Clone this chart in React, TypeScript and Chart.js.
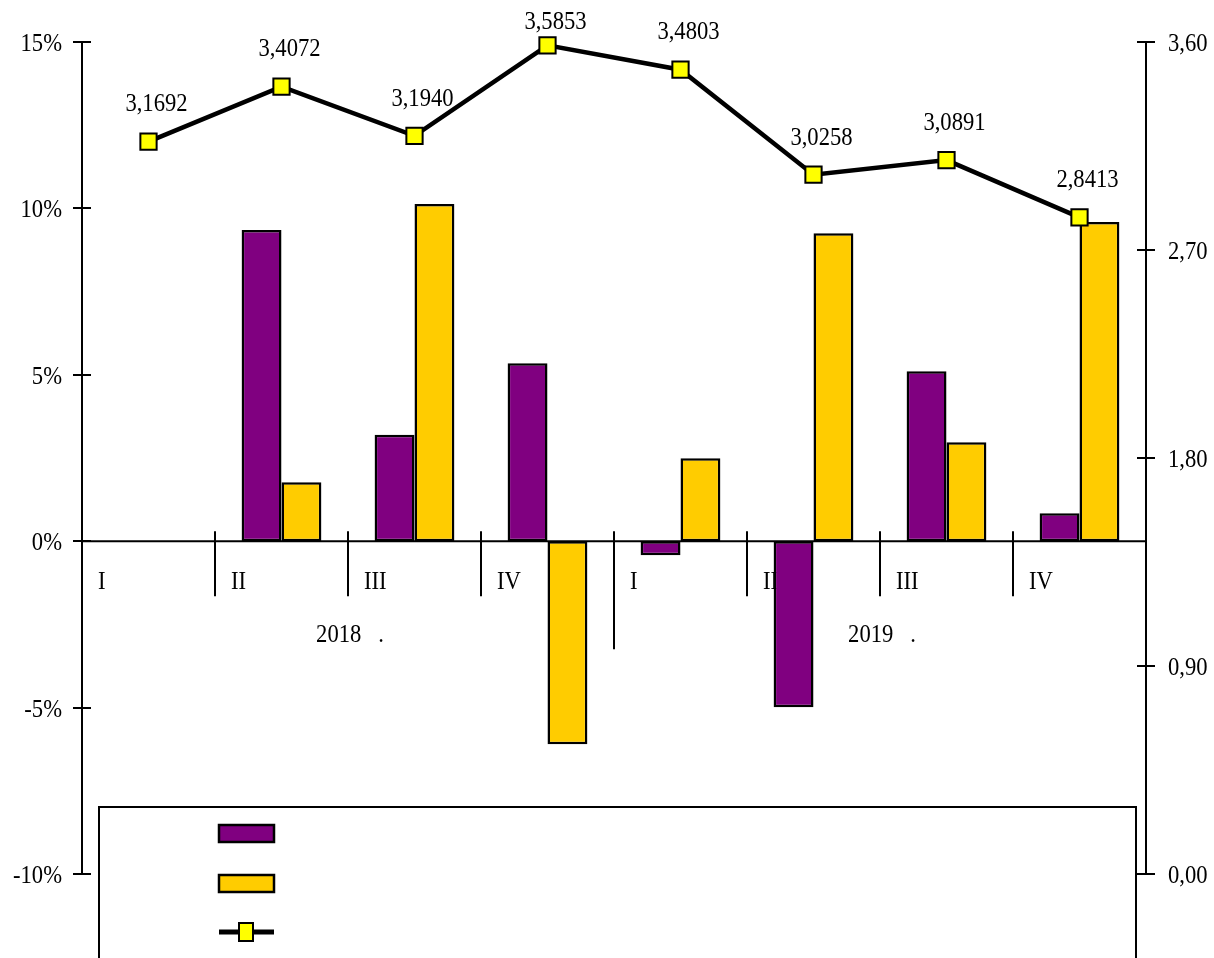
import React, { useEffect, useRef } from "react";
import { Chart, registerables } from "chart.js";

Chart.register(...registerables);

const QUARTERS = ["I", "II", "III", "IV", "I", "II", "III", "IV"];
const YEARS = ["2018   .", "2019   ."];
const SERIES_PURPLE: (number | null)[] = [null, 9.35, 3.2, 5.35, -0.42, -4.99, 5.11, 0.84];
const SERIES_YELLOW: (number | null)[] = [null, 1.77, 10.13, -6.1, 2.49, 9.25, 2.97, 9.59];
const LINE_VALUES = [3.1692, 3.4072, 3.194, 3.5853, 3.4803, 3.0258, 3.0891, 2.8413];
const LEFT_TICKS = [-10, -5, 0, 5, 10, 15];
const RIGHT_TICKS = [0, 0.9, 1.8, 2.7, 3.6];

const FONT = '26px "Liberation Serif", "Times New Roman", serif';
const SQUEEZE = 0.87;

function drawText(ctx: CanvasRenderingContext2D, text: string, x: number, y: number, align: CanvasTextAlign) {
  ctx.save();
  ctx.translate(x, y);
  ctx.scale(SQUEEZE, 1);
  ctx.font = FONT;
  ctx.fillStyle = "#000";
  ctx.textAlign = align;
  ctx.textBaseline = "middle";
  ctx.fillText(text, 0, 0);
  ctx.restore();
}

function seg(ctx: CanvasRenderingContext2D, x1: number, y1: number, x2: number, y2: number) {
  ctx.beginPath();
  ctx.moveTo(x1, y1);
  ctx.lineTo(x2, y2);
  ctx.stroke();
}

const decorPlugin = {
  id: "decor",
  beforeDatasetsDraw(chart: any) {
    const { ctx, chartArea: ca, scales } = chart;
    const y = scales.y;
    const y1 = scales.y1;
    const y0 = y.getPixelForValue(0);
    const n = QUARTERS.length;
    const w = (ca.right - ca.left) / n;
    ctx.save();
    ctx.strokeStyle = "#000";
    ctx.lineWidth = 2;
    seg(ctx, ca.left, y0, ca.right, y0);
    for (let i = 1; i < n; i++) {
      const xx = Math.round(ca.left + i * w);
      const bottom = i % 4 === 0 ? y0 + 108 : y0 + 55;
      seg(ctx, xx, y0 - 10, xx, bottom);
    }
    QUARTERS.forEach((q, i) => drawText(ctx, q, ca.left + i * w + 16, y0 + 41, "left"));
    YEARS.forEach((yr, j) => drawText(ctx, yr, ca.left + (j * 4 + 2) * w + 2, y0 + 94, "center"));
    LEFT_TICKS.forEach((v) => {
      const py = Math.round(y.getPixelForValue(v));
      seg(ctx, ca.left - 9, py, ca.left + 9, py);
      drawText(ctx, `${v}%`, ca.left - 20, py + 2, "right");
    });
    RIGHT_TICKS.forEach((v) => {
      const py = Math.round(y1.getPixelForValue(v));
      seg(ctx, ca.right - 9, py, ca.right + 9, py);
      drawText(ctx, v.toFixed(2).replace(".", ","), ca.right + 22, py + 2, "left");
    });
    ctx.restore();
  },
  afterDatasetsDraw(chart: any) {
    const { ctx } = chart;
    const meta = chart.getDatasetMeta(2);
    meta.data.forEach((pt: any, i: number) => {
      const ly = Math.max(pt.y - 37, 22);
      drawText(ctx, LINE_VALUES[i].toFixed(4).replace(".", ","), pt.x + 8, ly, "center");
    });
  },
  afterDraw(chart: any) {
    const { ctx } = chart;
    ctx.save();
    ctx.fillStyle = "#fff";
    ctx.fillRect(99, 807, 1037, 160);
    ctx.strokeStyle = "#000";
    ctx.lineWidth = 2;
    ctx.strokeRect(99, 807, 1037, 160);
    ctx.lineWidth = 2.5;
    ctx.fillStyle = "#800080";
    ctx.fillRect(219, 825, 55, 17);
    ctx.strokeRect(219, 825, 55, 17);
    ctx.fillStyle = "#FFCC00";
    ctx.fillRect(219, 875, 55, 17);
    ctx.strokeRect(219, 875, 55, 17);
    ctx.lineWidth = 5;
    seg(ctx, 219, 932, 274, 932);
    ctx.lineWidth = 2;
    ctx.fillStyle = "#FFFF00";
    ctx.fillRect(239, 923, 14, 18);
    ctx.strokeRect(239, 923, 14, 18);
    ctx.restore();
  },
};

export default function App() {
  const ref = useRef<HTMLCanvasElement | null>(null);
  useEffect(() => {
    if (!ref.current) return;
    const chart = new Chart(ref.current, {
      type: "bar",
      data: {
        labels: QUARTERS.map((q, i) => `${q}-${i}`),
        datasets: [
          {
            type: "bar",
            data: SERIES_PURPLE,
            backgroundColor: "#800080",
            borderColor: "#000",
            borderWidth: 2.5,
            borderSkipped: false,
            yAxisID: "y",
            order: 2,
            categoryPercentage: 0.6,
            barPercentage: 1,
          },
          {
            type: "bar",
            data: SERIES_YELLOW,
            backgroundColor: "#FFCC00",
            borderColor: "#000",
            borderWidth: 2.5,
            borderSkipped: false,
            yAxisID: "y",
            order: 2,
            categoryPercentage: 0.6,
            barPercentage: 1,
          },
          {
            type: "line",
            data: LINE_VALUES,
            borderColor: "#000",
            borderWidth: 4.5,
            pointStyle: "rect",
            pointRadius: 11.5,
            pointBackgroundColor: "#FFFF00",
            pointBorderColor: "#000",
            pointBorderWidth: 2,
            tension: 0,
            yAxisID: "y1",
            order: 0,
            clip: false,
          } as any,
        ],
      },
      options: {
        responsive: false,
        animation: false,
        layout: { padding: { top: 42, bottom: 84, left: 0, right: 0 } },
        plugins: { legend: { display: false }, tooltip: { enabled: false } },
        scales: {
          x: { type: "category", display: false, offset: true },
          y: {
            position: "left",
            min: -10,
            max: 15,
            ticks: { display: false },
            grid: { display: false },
            border: { display: true, color: "#000", width: 2 },
            afterFit: (s: any) => { s.width = 82; },
          },
          y1: {
            position: "right",
            min: 0,
            max: 3.6,
            ticks: { display: false },
            grid: { display: false },
            border: { display: true, color: "#000", width: 2 },
            afterFit: (s: any) => { s.width = 68; },
          },
        },
      },
      plugins: [decorPlugin],
    } as any);
    return () => chart.destroy();
  }, []);
  return (
    <canvas
      ref={ref}
      width={1214}
      height={958}
      style={{ position: "absolute", left: 0, top: 0, display: "block" }}
    />
  );
}
